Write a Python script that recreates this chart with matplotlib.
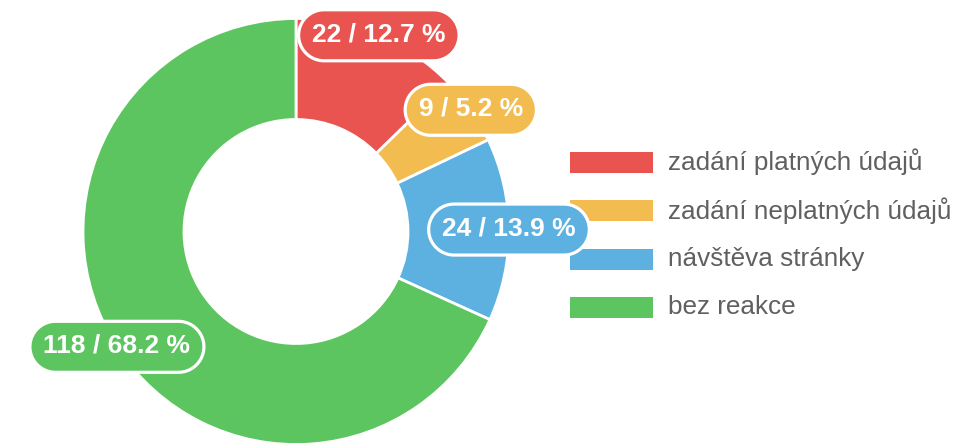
import numpy as np
import matplotlib.pyplot as plt
from matplotlib.patches import Rectangle, Polygon

plt.rcParams['font.family'] = ['Liberation Sans', 'DejaVu Sans']

categories = ['zadání platných údajů', 'zadání neplatných údajů', 'návštěva stránky', 'bez reakce']
values = [22, 9, 24, 118]
colors = ['#EA5450', '#F3BC50', '#5DB1E1', '#5CC55F']

W, H = 977, 447
fig = plt.figure(figsize=(W / 100, H / 100), dpi=100)
ax = fig.add_axes([0, 0, 1, 1])

# donut in pixel coords (y up)
cx, cy = 296, H - 231.5
r_out, r_in = 213, 112
wedges, _ = ax.pie(values, colors=colors, center=(cx, cy), radius=r_out,
                   startangle=90, counterclock=False,
                   wedgeprops=dict(width=r_out - r_in, edgecolor='white', linewidth=2))
ax.set_xlim(0, W)
ax.set_ylim(0, H)
ax.set_aspect('equal')
ax.axis('off')


def pill(xc, yc, w, h):
    # stadium shape with round ends
    r = h / 2
    a1 = np.linspace(-np.pi / 2, np.pi / 2, 40)
    a2 = np.linspace(np.pi / 2, 3 * np.pi / 2, 40)
    right = np.column_stack([xc + w / 2 - r + r * np.cos(a1), yc + r * np.sin(a1)])
    left = np.column_stack([xc - w / 2 + r + r * np.cos(a2), yc + r * np.sin(a2)])
    return np.vstack([right, left])


# labels at outer edge of each arc
renderer = fig.canvas.get_renderer()
total = sum(values)
for w, v, c in zip(wedges, values, colors):
    mid = np.deg2rad((w.theta1 + w.theta2) / 2)
    x = cx + r_out * np.cos(mid)
    y = cy + r_out * np.sin(mid)
    t = ax.text(x, y + 1, f'{v} / {v / total * 100:.1f} %', ha='center', va='center',
                color='white', fontsize=19, fontweight='bold', zorder=11)
    tw = t.get_window_extent(renderer).width
    ax.add_patch(Polygon(pill(x, y, tw + 27, 51), closed=True, fc=c, ec='white',
                         lw=2.3, zorder=10))

# legend
lx, ly0, step = 570, H - 162, 48.5
for i, (lab, c) in enumerate(zip(categories, colors)):
    y = ly0 - i * step
    ax.add_patch(Rectangle((lx, y - 10.5), 83, 21, fc=c, ec='none', zorder=3))
    ax.text(lx + 98, y, lab, ha='left', va='center', color='#606060',
            fontsize=18.8, zorder=3)

fig.savefig('out.png', dpi=100)
